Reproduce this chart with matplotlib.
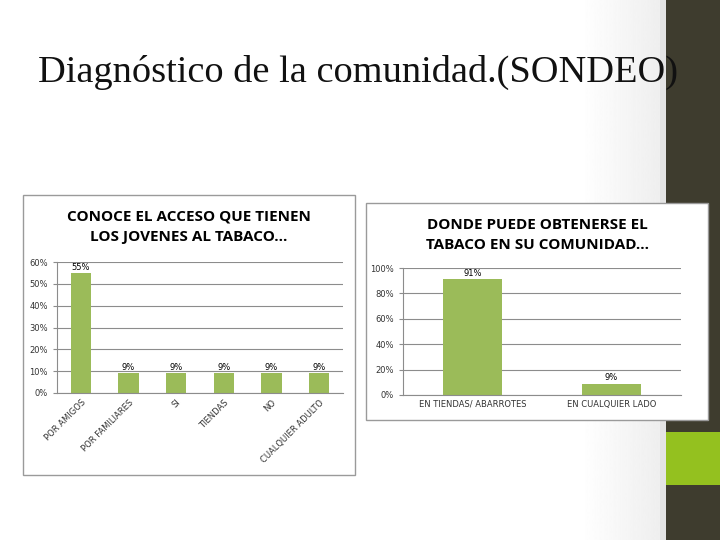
import matplotlib
matplotlib.use("Agg")
import matplotlib.pyplot as plt
import numpy as np
from matplotlib.patches import Rectangle
from matplotlib.ticker import PercentFormatter

# data
title = "Diagnóstico de la comunidad.(SONDEO)"
title1 = "CONOCE EL ACCESO QUE TIENEN\nLOS JOVENES AL TABACO..."
cats1 = ["POR AMIGOS", "POR FAMILIARES", "SI", "TIENDAS", "NO", "CUALQUIER ADULTO"]
vals1 = [0.55, 0.09, 0.09, 0.09, 0.09, 0.09]
title2 = "DONDE PUEDE OBTENERSE EL\nTABACO EN SU COMUNIDAD..."
cats2 = ["EN TIENDAS/ ABARROTES", "EN CUALQUIER LADO"]
vals2 = [0.91, 0.09]

W, H = 720, 540
green = "#9bbb59"
grid = "#8c8c8c"

fig = plt.figure(figsize=(7.2, 5.4), dpi=100)
fig.patch.set_facecolor("white")

def box(x0, y0, x1, y1, **kw):
    # pixel coords, y from top
    r = Rectangle((x0 / W, 1 - y1 / H), (x1 - x0) / W, (y1 - y0) / H,
                  transform=fig.transFigure, **kw)
    fig.patches.append(r)

def axes_px(x0, y0, x1, y1):
    return fig.add_axes([x0 / W, 1 - y1 / H, (x1 - x0) / W, (y1 - y0) / H])

# soft gray fade towards the right strip
bg = axes_px(580, 0, 666, 540)
grad = np.linspace(1.0, 0.93, 100).reshape(1, -1)
bg.imshow(grad, cmap="gray", vmin=0, vmax=1, aspect="auto", extent=[0, 1, 0, 1])
bg.axis("off")
bg.set_zorder(-1)

# slide decoration
box(660, 0, 666, 540, facecolor="#e4e4e4", edgecolor="none", zorder=0)
box(666, 0, 720, 540, facecolor="#3e3c2e", edgecolor="none", zorder=0)
box(666, 432, 720, 485, facecolor="#94c11f", edgecolor="none", zorder=0)

fig.text(38 / W, 1 - 72 / H, title, family="Liberation Serif", fontsize=27.6,
         va="center", ha="left", color="#111111", zorder=5)

# chart boxes
box(23, 195, 355, 475, facecolor="white", edgecolor="#9a9a9a", lw=1, zorder=1)
box(366, 203, 708, 420, facecolor="white", edgecolor="#9a9a9a", lw=1, zorder=1)

fig.text(189 / W, 1 - 227 / H, title1, ha="center", va="center", fontsize=11,
         fontweight="bold", family="Open Sans", linespacing=1.6, zorder=3)
fig.text(537 / W, 1 - 235 / H, title2, ha="center", va="center", fontsize=11,
         fontweight="bold", family="Open Sans", linespacing=1.6, zorder=3)


def style(ax, ymax, step):
    ax.set_zorder(2)
    ax.patch.set_alpha(0)
    ax.set_ylim(0, ymax)
    ax.set_yticks([i * step for i in range(int(round(ymax / step)) + 1)])
    ax.yaxis.set_major_formatter(PercentFormatter(1.0, decimals=0))
    ax.grid(axis="y", color=grid, lw=0.8)
    ax.set_axisbelow(True)
    for s in ["top", "right"]:
        ax.spines[s].set_visible(False)
    ax.spines["left"].set_color(grid)
    ax.spines["bottom"].set_color(grid)
    ax.tick_params(axis="y", labelsize=6, colors="#333333", length=3, color=grid)
    ax.tick_params(axis="x", labelsize=6, colors="#333333", length=0)


ax1 = axes_px(57, 262, 343, 393)
b1 = ax1.bar(range(len(cats1)), vals1, width=0.42, color=green)
style(ax1, 0.6, 0.1)
ax1.set_xlim(-0.5, len(cats1) - 0.5)
ax1.set_xticks(range(len(cats1)))
ax1.set_xticklabels(cats1, rotation=45, ha="right", rotation_mode="anchor")
ax1.bar_label(b1, labels=[f"{v:.0%}" for v in vals1], fontsize=6, padding=1)

ax2 = axes_px(403, 268, 681, 395)
b2 = ax2.bar(range(len(cats2)), vals2, width=0.42, color=green)
style(ax2, 1.0, 0.2)
ax2.set_xlim(-0.5, len(cats2) - 0.5)
ax2.set_xticks(range(len(cats2)))
ax2.set_xticklabels(cats2)
ax2.bar_label(b2, labels=[f"{v:.0%}" for v in vals2], fontsize=6, padding=1)

fig.savefig("out.png", dpi=100)
